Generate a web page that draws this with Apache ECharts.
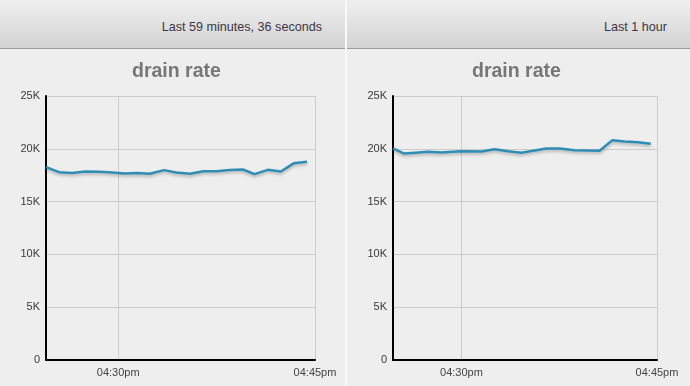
<!DOCTYPE html>
<html>
<head>
<meta charset="utf-8">
<script src="https://cdn.jsdelivr.net/npm/echarts@6/dist/echarts.min.js"></script>
<style>
html,body{margin:0;padding:0;width:690px;height:386px;overflow:hidden;background:#eeeeee;font-family:"Liberation Sans",Arial,sans-serif;}
.panel{position:absolute;top:0;height:386px;background:#eeeeee;}
.hdr{position:absolute;left:0;right:0;top:0;height:48px;background:linear-gradient(#efefef,#d3d3d3);border-bottom:1px solid #9a9a9a;}
.hdr span{position:absolute;right:23px;top:20px;font-size:12.6px;color:#3d3545;}
.chart{position:absolute;left:0;right:0;top:50px;height:336px;}
#sep{position:absolute;left:345px;top:0;width:2px;height:386px;background:#f9f9f9;}
</style>
</head>
<body>
<div class="panel" style="left:0;width:345px;"><div class="hdr"><span id="h1"></span></div><div class="chart" id="c1"></div></div>
<div id="sep"></div>
<div class="panel" style="left:347px;width:343px;"><div class="hdr"><span id="h2"></span></div><div class="chart" id="c2"></div></div>
<script>
// Data (minutes after 04:00pm, value)
var titleText = "drain rate";
var header1 = "Last 59 minutes, 36 seconds";
var header2 = "Last 1 hour";
var tickMinutes = [30, 45];
var tickLabels = ["04:30pm", "04:45pm"];

var leftMinutes = [24.5,25.5,26.5,27.5,28.5,29.3,30.5,31.5,32.4,33.5,34.4,35.5,36.5,37.5,38.5,39.5,40.4,41.4,42.4,43.4,44.4];
var leftValues  = [18260,17790,17700,17850,17820,17790,17660,17700,17630,17980,17760,17630,17880,17880,18000,18040,17600,18010,17850,18640,18770];

var rightMinutes = [24.75,25.6,26.5,27.44,28.47,30.0,31.53,32.55,33.57,34.6,35.62,36.52,37.54,38.69,39.71,40.6,41.58,42.52,43.54,44.52];
var rightValues  = [20030,19550,19630,19710,19650,19770,19740,19960,19770,19620,19840,20030,20030,19870,19840,19810,20820,20690,20630,20470];

document.getElementById('h1').textContent = header1;
document.getElementById('h2').textContent = header2;

function zip(a,b){return a.map(function(v,i){return [v,b[i]];});}

function makeOption(xs, ys, xmin, gridRight, titleCenter){
  return {
    animation:false,
    graphic:[{type:'text',left:titleCenter-45,top:12,style:{text:titleText,fontSize:19.5,fontWeight:'bold',fill:'#777777',fontFamily:'"Liberation Sans",Arial,sans-serif'}}],
    grid:{left:46,right:gridRight,top:46,bottom:26,containLabel:false},
    xAxis:{type:'value',min:xmin,max:45,
      axisLine:{show:true,onZero:false,lineStyle:{color:'#000',width:2}},
      axisTick:{show:false,customValues:tickMinutes},
      axisLabel:{customValues:tickMinutes,color:'#444',fontSize:11,margin:7,fontFamily:'"Liberation Sans",Arial,sans-serif',
        formatter:function(v){var i=tickMinutes.indexOf(v);return i>=0?tickLabels[i]:'';}},
      splitLine:{show:true,lineStyle:{color:'#cccccc',width:1}}
    },
    yAxis:{type:'value',min:0,max:25000,interval:5000,
      axisLine:{show:true,lineStyle:{color:'#000',width:2}},
      axisTick:{show:false},
      axisLabel:{color:'#3a3a3a',fontSize:11,margin:6,fontFamily:'"Liberation Sans",Arial,sans-serif',
        formatter:function(v){return v===0?'0':(v/1000)+'K';}},
      splitLine:{show:true,lineStyle:{color:'#cccccc',width:1}}
    },
    series:[{type:'line',data:zip(xs,ys),showSymbol:false,symbol:'none',
      lineStyle:{color:'#2e8db5',width:2.5,shadowColor:'rgba(0,0,0,0.25)',shadowBlur:3,shadowOffsetY:2}}]
  };
}
var c1 = echarts.init(document.getElementById('c1'),null,{renderer:'canvas'});
c1.setOption(makeOption(leftMinutes,leftValues,24.5,30,177));
var c2 = echarts.init(document.getElementById('c2'),null,{renderer:'canvas'});
c2.setOption(makeOption(rightMinutes,rightValues,24.75,33,170));
</script>
</body>
</html>
